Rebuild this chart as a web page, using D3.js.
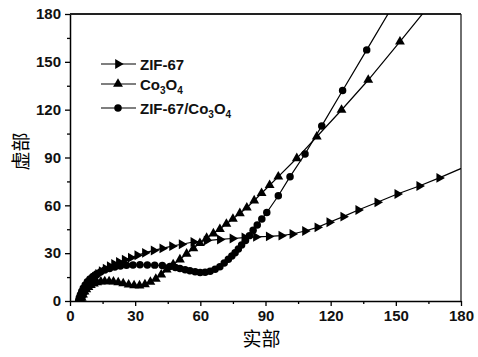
<!DOCTYPE html>
<html><head><meta charset="utf-8">
<script src="https://cdn.jsdelivr.net/npm/d3@7/dist/d3.min.js"></script>
<style>body{margin:0;background:#fff}svg{display:block}</style>
</head><body>
<svg id="c" width="478" height="357"></svg>
<script>
const xTicks = [0,30,60,90,120,150,180];
const yTicks = [0,30,60,90,120,150,180];
const xTitle = "实部";
const yTitle = "虚部";
const seriesNames = ["ZIF-67","Co3O4","ZIF-67/Co3O4"];

const zif67 = [[4.5,0.5],[5,2],[5.6,4],[6.3,6],[7.1,8],[8,10],[9,11.8],[10.2,13.5],[11.5,15.2],[13,17],[14.6,18.7],[16.4,20.3],[18.3,21.8],[20.3,23.2],[22.5,24.5],[25.2,25.9],[28,27.2],[31,28.7],[34.5,30.2],[38.5,31.7],[42.5,33],[47,34.4],[51.4,35.6],[56.8,37],[62.9,37.9],[69,38.6],[74.8,39.2],[80.3,39.8],[85.6,40.2],[91.5,40.5],[97.3,41],[102.4,42],[108.2,43.9],[113.9,46.2],[119.4,49.4],[125.8,52.9],[132.7,57.1],[141.5,61.9],[150.7,67.1],[160.8,72.1],[170,77.2],[181.5,84]];

const co3o4 = [[5,0.3],[5.4,2],[6,4],[6.7,5.8],[7.5,7.3],[8.5,8.7],[9.6,9.9],[11,10.9],[12.5,11.6],[14.2,12.1],[16,12.3],[18,12.3],[20,12.1],[22.2,11.6],[24.5,11],[27,10.3],[29.5,9.8],[32,9.7],[34.5,10.4],[37,11.9],[39.5,13.9],[42,16.5],[44.5,19.6],[47.5,22.9],[50.6,26],[53.7,29.6],[56.8,33],[59.8,36.3],[62.9,39.5],[66,42.3],[69,45.1],[72,48.3],[75,51.5],[78.2,55],[81.4,58.5],[84.8,63],[88.2,67.6],[91.9,72.6],[95.9,78],[104.4,89.5],[113.6,103],[125,119.8],[137.3,138.6],[151.9,162.7],[167,188]];

const zifCo = [[4,0.3],[4.3,2],[4.8,4],[5.4,6],[6.1,8],[7,10],[8,12],[9.2,13.8],[10.6,15.4],[12.2,16.9],[14,18.2],[16,19.4],[18.2,20.4],[20.6,21.3],[23.2,22],[26,22.4],[29,22.6],[32.2,22.7],[35.6,22.6],[39,22.5],[42.5,22.3],[46,21.7],[48.5,21],[50.6,20.4],[53,19.6],[55.2,18.9],[57.6,18.3],[59.9,17.9],[62.2,18],[64.5,18.7],[66.8,19.9],[69,21.5],[71,23.8],[72.9,26.2],[74.5,28.2],[76,30.3],[77.5,32.6],[79,35.1],[80.8,38],[82.6,41],[84.3,44.3],[86.2,47.7],[88.3,51.5],[90.6,55.5],[95.9,66],[101.3,78],[108.2,92.2],[115.9,109.8],[125.5,132],[136.6,157.5],[149,186]];

const W = 478, H = 357;
const m = {l:70, r:461, t:14, b:301};
const x = d3.scaleLinear().domain([0,180]).range([m.l, m.r]);
const y = d3.scaleLinear().domain([0,180]).range([m.b, m.t]);
const svg = d3.select("#c");
const font = "'Liberation Sans', Arial, sans-serif";

svg.append("defs").append("clipPath").attr("id","clip")
  .append("rect").attr("x",m.l).attr("y",m.t).attr("width",m.r-m.l).attr("height",m.b-m.t);

// axes
const minorX = d3.range(15,180,30);
const minorY = d3.range(15,180,30);
svg.append("g").attr("transform",`translate(0,${m.b})`)
  .call(d3.axisBottom(x).tickValues(xTicks).tickSize(5).tickSizeOuter(0).tickPadding(4).tickFormat(d3.format("d")));
svg.append("g").attr("transform",`translate(${m.l},0)`)
  .call(d3.axisLeft(y).tickValues(yTicks).tickSize(5).tickSizeOuter(0).tickPadding(4).tickFormat(d3.format("d")));
svg.append("g").attr("transform",`translate(0,${m.b})`)
  .call(d3.axisBottom(x).tickValues(minorX).tickSize(3).tickSizeOuter(0).tickFormat(""))
  .select(".domain").remove();
svg.append("g").attr("transform",`translate(${m.l},0)`)
  .call(d3.axisLeft(y).tickValues(minorY).tickSize(3).tickSizeOuter(0).tickFormat(""))
  .select(".domain").remove();
svg.selectAll(".tick line").attr("stroke","#000").attr("stroke-width",1.3);
svg.selectAll(".domain").attr("stroke","#000").attr("stroke-width",1.5);
svg.selectAll(".tick text").attr("font-family",font).attr("font-weight","bold").attr("font-size",15).attr("fill","#111");

// frame top/right
svg.append("line").attr("x1",m.l).attr("x2",m.r).attr("y1",m.t).attr("y2",m.t).attr("stroke","#222").attr("stroke-width",1.8);
svg.append("line").attr("x1",m.r).attr("x2",m.r).attr("y1",m.t).attr("y2",m.b).attr("stroke","#222").attr("stroke-width",1.3);

// titles
svg.append("text").attr("x",(m.l+m.r)/2-4).attr("y",346).attr("text-anchor","middle")
  .attr("font-family","'Noto Sans CJK SC', sans-serif").attr("font-size",19).text(xTitle);
svg.append("text").attr("transform",`translate(28,${(m.t+m.b)/2-6}) rotate(-90)`).attr("text-anchor","middle")
  .attr("font-family","'Noto Sans CJK SC', sans-serif").attr("font-size",19).text(yTitle);

// series
const line = d3.line().x(d=>x(d[0])).y(d=>y(d[1]));
const plot = svg.append("g").attr("clip-path","url(#clip)");
const sym = {
  tri: d3.symbol().type(d3.symbolTriangle).size(42),
  circ: d3.symbol().type(d3.symbolCircle).size(44)
};
const series = [
  {name:seriesNames[0], data:zif67, s:sym.tri, rot:90},
  {name:seriesNames[1], data:co3o4, s:sym.tri, rot:0},
  {name:seriesNames[2], data:zifCo, s:sym.circ, rot:0}
];
series.forEach(se=>{
  plot.append("path").datum(se.data).attr("d",line).attr("fill","none").attr("stroke","#000").attr("stroke-width",1.2);
  plot.selectAll(null).data(se.data).enter().append("path")
    .attr("d",se.s()).attr("fill","#000")
    .attr("transform",d=>`translate(${x(d[0])},${y(d[1])}) rotate(${se.rot})`);
});

// legend
const leg = svg.append("g");
const legY = [64, 84, 108];
series.forEach((se,i)=>{
  const g = leg.append("g").attr("transform",`translate(0,${legY[i]})`);
  g.append("line").attr("x1",101).attr("x2",136).attr("stroke","#000").attr("stroke-width",1.2);
  g.append("path").attr("d",se.s()).attr("transform",`translate(118,0) rotate(${se.rot})`).attr("fill","#000");
  const t = g.append("text").attr("x",140).attr("y",5.5).attr("font-family",font).attr("font-weight","bold").attr("font-size",15).attr("fill","#111");
  const name = se.name;
  const re = /Co3O4/;
  if(re.test(name)){
    const pre = name.replace(re,"");
    if(pre) t.append("tspan").text(pre);
    t.append("tspan").text("Co");
    t.append("tspan").attr("font-size",10).attr("dy",4).text("3");
    t.append("tspan").attr("dy",-4).text("O");
    t.append("tspan").attr("font-size",10).attr("dy",4).text("4");
  } else {
    t.text(name);
  }
});
</script>
</body></html>
